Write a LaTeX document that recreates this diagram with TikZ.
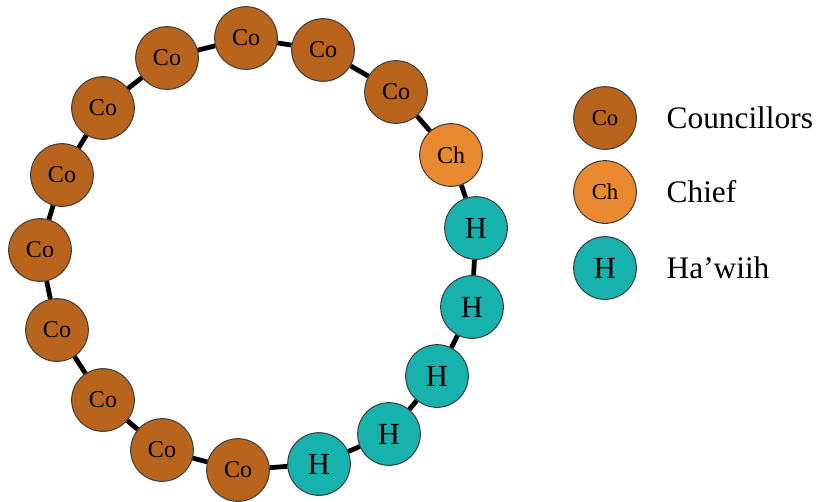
\documentclass[tikz,border=0pt]{standalone}
\usepackage{fontspec}
\setmainfont{Liberation Serif}
\usepackage{tikz}

\definecolor{cobrown}{RGB}{184,100,28}
\definecolor{chorange}{RGB}{234,138,48}
\definecolor{hteal}{RGB}{24,178,174}

\begin{document}
\begin{tikzpicture}[x=0.75pt,y=-0.75pt,
  member/.style={circle,draw=black!75,line width=0.8pt,minimum size=47pt,inner sep=0pt},
  co/.style={member,fill=cobrown,font=\fontsize{18}{18}\selectfont},
  ch/.style={member,fill=chorange,font=\fontsize{18}{18}\selectfont},
  ha/.style={member,fill=hteal,font=\fontsize{23}{23}\selectfont},
  link/.style={line width=3.6pt}]
\useasboundingbox (0,0) rectangle (816,501);

% the ring
\node [co] (c1) at (246,38) {Co};
\node [co] (c2) at (323,50) {Co};
\node [co] (c3) at (396,92) {Co};
\node [ch] (ch) at (451,155) {Ch};
\node [ha] (h1) at (476,228) {H};
\node [ha] (h2) at (472,307) {H};
\node [ha] (h3) at (437,376) {H};
\node [ha] (h4) at (389,434) {H};
\node [ha] (h5) at (319,464) {H};
\node [co] (c4) at (238,470) {Co};
\node [co] (c5) at (162,450) {Co};
\node [co] (c6) at (103,400) {Co};
\node [co] (c7) at (57,330) {Co};
\node [co] (c8) at (40,250) {Co};
\node [co] (c9) at (62,175) {Co};
\node [co] (c10) at (103,108) {Co};
\node [co] (c11) at (167,58) {Co};

\draw [link] (c1) -- (c2) -- (c3) -- (ch) -- (h1) -- (h2) -- (h3) -- (h4) -- (h5)
  -- (c4) -- (c5) -- (c6) -- (c7) -- (c8) -- (c9) -- (c10) -- (c11) -- (c1);

% legend
\node [co,font=\fontsize{17}{17}\selectfont] (kco) at (605,118) {Co};
\node [ch,font=\fontsize{17}{17}\selectfont] (kch) at (605,192) {Ch};
\node [ha] (kha) at (605,268) {H};
\node [right,font=\fontsize{23.5}{23.5}\selectfont] at (662,118) {Councillors};
\node [right,font=\fontsize{23.5}{23.5}\selectfont] at (662,192) {Chief};
\node [right,font=\fontsize{23.5}{23.5}\selectfont] at (662,268) {Ha’wiih};

\end{tikzpicture}
\end{document}
